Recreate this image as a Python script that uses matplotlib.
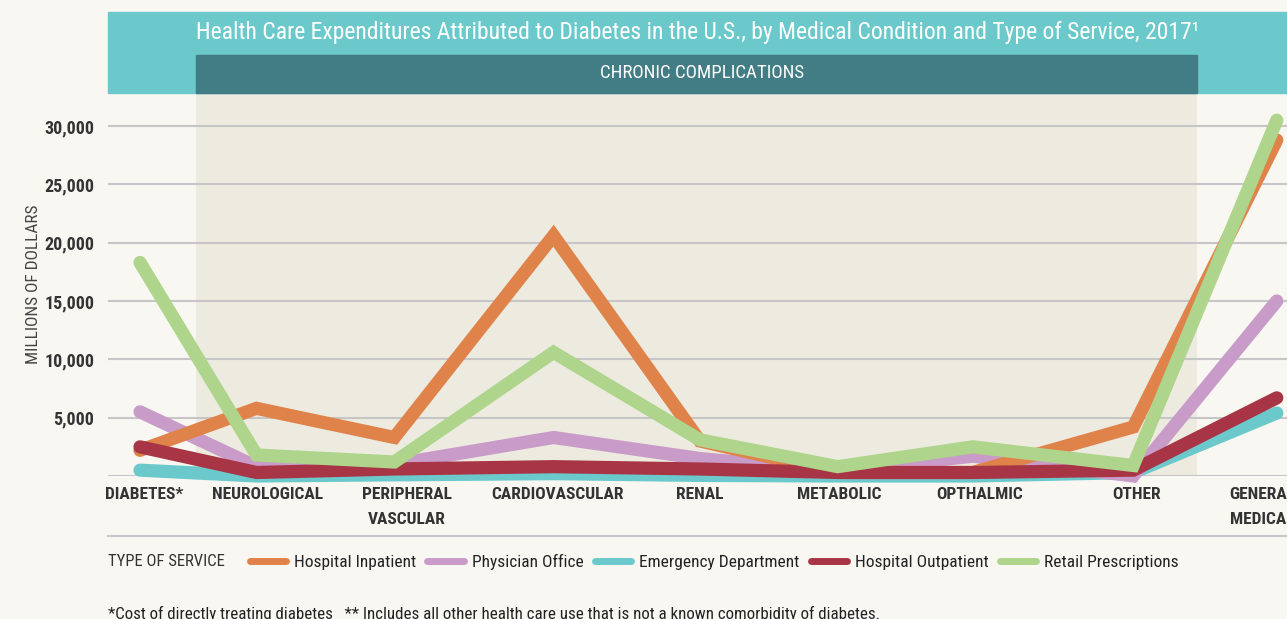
import matplotlib
matplotlib.use("Agg")
import matplotlib.pyplot as plt
from matplotlib.patches import Rectangle
from matplotlib.lines import Line2D

plt.rcParams['font.family'] = ['Roboto Condensed', 'Archivo Narrow', 'DejaVu Sans']

# data (millions of dollars)
conditions = ["DIABETES*", "NEUROLOGICAL", "PERIPHERAL\nVASCULAR", "CARDIOVASCULAR",
              "RENAL", "METABOLIC", "OPTHALMIC", "OTHER", "GENERAL\nMEDICAL"]
hospital_inpatient = [2200, 5800, 3300, 20600, 3000, 300, 300, 4200, 28800]
physician_office = [5500, 800, 1000, 3300, 1500, 400, 1700, 0, 15000]
emergency_dept = [500, 0, 100, 200, 50, 0, 0, 300, 5400]
hospital_outpatient = [2500, 300, 600, 800, 600, 300, 300, 500, 6700]
retail_prescriptions = [18300, 1800, 1200, 10600, 3100, 800, 2500, 900, 30500]
yticks = [5000, 10000, 15000, 20000, 25000, 30000]

# layout: uneven spacing of the points in the original
x_pos = [0, 0.82, 1.79, 2.91, 3.94, 4.91, 5.86, 6.99, 8.0]
label_off = [0.03, 0.08, 0.09, 0.03, 0.0, 0.01, 0.05, 0.02, -0.1]

c_orange = '#E0834B'
c_pink = '#C99BC8'
c_teal = '#6CC9CB'
c_red = '#A83545'
c_green = '#AED58B'
bg = '#F8F7F2'

W, H = 1287, 619
fig = plt.figure(figsize=(W / 100, H / 100), dpi=100, facecolor=bg)

def fx(px):
    return px / W

def fy(py):
    return 1 - py / H

# header bands
fig.patches.append(Rectangle((fx(108), fy(93)), fx(1287) - fx(108), fy(12) - fy(93),
                             transform=fig.transFigure, color='#6BC9CB', zorder=0))
fig.patches.append(Rectangle((fx(196), fy(93)), fx(1197) - fx(196), fy(55) - fy(93),
                             transform=fig.transFigure, color='#427C85', zorder=0))
fig.text(fx(698), fy(32), "Health Care Expenditures Attributed to Diabetes in the U.S., by Medical Condition and Type of Service, 2017\u00b9",
         color='white', fontsize=17, ha='center', va='center')
fig.text(fx(702), fy(73), "CHRONIC COMPLICATIONS", color='white', fontsize=13.6,
         ha='center', va='center')

ax = fig.add_axes([fx(108), fy(476), fx(1287) - fx(108), fy(93) - fy(476)])
ax.set_facecolor(bg)
ymax = (476 - 93) * 30000 / 350
ax.set_ylim(0, ymax)
xmin = (108 - 140) / 142.1
xmax = (1287 - 140) / 142.1
ax.set_xlim(xmin, xmax)

ax.axvspan((196 - 140) / 142.1, (1197 - 140) / 142.1, color='#EDEBDF', zorder=0, lw=0)
for t in [0] + yticks:
    ax.axhline(t, color='#C6C6C6', lw=1.5, zorder=1)

series = [
    (emergency_dept, c_teal, "Emergency Department", 2),
    (physician_office, c_pink, "Physician Office", 3),
    (hospital_inpatient, c_orange, "Hospital Inpatient", 4),
    (hospital_outpatient, c_red, "Hospital Outpatient", 5),
    (retail_prescriptions, c_green, "Retail Prescriptions", 6),
]
for vals, col, name, z in series:
    ax.plot(x_pos, vals, color=col, lw=9.5, solid_capstyle='round',
            solid_joinstyle='miter', zorder=z, clip_on=False)

for s in ax.spines.values():
    s.set_visible(False)
ax.set_yticks(yticks)
ax.set_yticklabels([f"{v:,}" for v in yticks], fontsize=13, fontweight='bold', color='#333333')
ax.set_xticks([x + o for x, o in zip(x_pos, label_off)])
ax.set_xticklabels(conditions, fontsize=12.5, fontweight='bold', color='#333333',
                   linespacing=1.8, va='top')
ax.tick_params(axis='y', length=0, pad=10)
ax.tick_params(axis='x', length=0, pad=8)
ax.set_ylabel("MILLIONS OF DOLLARS", fontsize=12.4, color='#444444')
ax.yaxis.set_label_coords(-0.057, 0.5)

# separator above legend
fig.add_artist(Line2D([fx(108), 1], [fy(536), fy(536)], color='#C6C6C6', lw=1.5))

fig.text(fx(108), fy(562), "TYPE OF SERVICE", fontsize=12, color='#333333', va='center')
order = [series[2], series[1], series[0], series[3], series[4]]
handles = [Line2D([0], [0], color=col, lw=5, solid_capstyle='round') for _, col, _, _ in order]
fig.legend(handles, [n for _, _, n, _ in order], loc='center left',
           bbox_to_anchor=(fx(234), fy(562)), ncol=5, frameon=False, fontsize=12.5,
           handlelength=2.1, handletextpad=0.45, columnspacing=0.65, labelcolor='#222222')

fig.text(fx(108), fy(614), "*Cost of directly treating diabetes   ** Includes all other health care use that is not a known comorbidity of diabetes.",
         fontsize=12.2, color='#222222', va='center')

fig.savefig("out.png", dpi=100, facecolor=bg)
